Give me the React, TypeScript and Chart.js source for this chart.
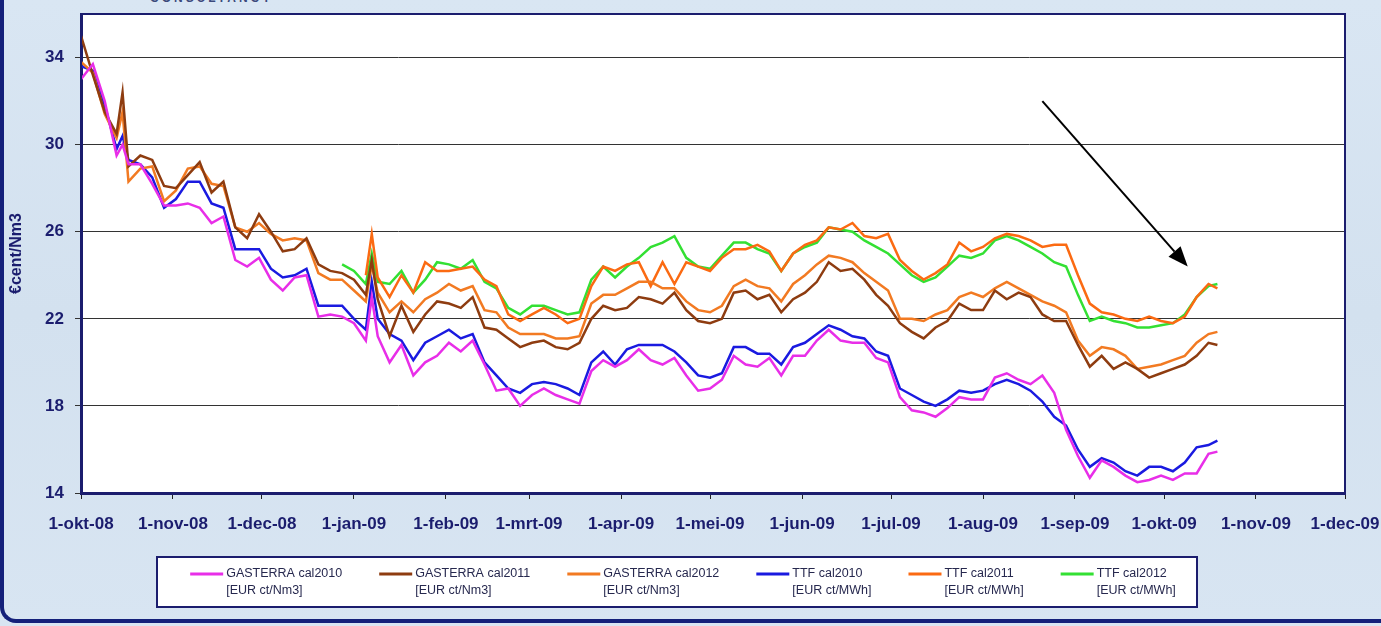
import React, { useEffect, useRef } from 'react';
import { Chart, registerables } from 'chart.js';

Chart.register(...registerables);

// Days since 1-okt-08
const DAYS = [
  0, 4, 8, 12, 14, 16, 20, 24, 28, 32, 36, 40, 44, 48, 52, 56, 60, 64, 68, 72, 76, 80, 84, 88, 92, 96, 98,
  100, 104, 108, 112, 116, 120, 124, 128, 132, 136, 140, 144, 148, 152, 156, 160, 164, 168, 172, 176, 180,
  184, 188, 192, 196, 200, 204, 208, 212, 216, 220, 224, 228, 232, 236, 240, 244, 248, 252, 256, 260, 264,
  268, 272, 276, 280, 284, 288, 292, 296, 300, 304, 308, 312, 316, 320, 324, 328, 332, 336, 340, 344, 348,
  352, 356, 360, 364, 368, 372, 376, 380, 383,
];

const GASTERRA_2010 = [
  33.0, 33.7, 32.0, 29.5, 30.0, 29.1, 29.1, 28.2, 27.2, 27.2, 27.3, 27.1, 26.4, 26.7, 24.7, 24.4, 24.8, 23.8, 23.3, 23.9, 24.0, 22.1, 22.2, 22.1, 21.8, 21.0, 23.0,
  21.2, 20.0, 20.8, 19.4, 20.0, 20.3, 20.9, 20.5, 21.0, 19.9, 18.7, 18.8, 18.0, 18.5, 18.8, 18.5, 18.3, 18.1, 19.6, 20.1, 19.8,
  20.1, 20.6, 20.1, 19.9, 20.2, 19.4, 18.7, 18.8, 19.2, 20.3, 19.9, 19.8, 20.2, 19.4, 20.3, 20.3, 21.0, 21.5, 21.0, 20.9, 20.9,
  20.2, 20.0, 18.4, 17.8, 17.7, 17.5, 17.9, 18.4, 18.3, 18.3, 19.3, 19.5, 19.2, 19.0, 19.4, 18.6, 16.9, 15.7, 14.7, 15.5, 15.2,
  14.8, 14.5, 14.6, 14.8, 14.6, 14.9, 14.9, 15.8, 15.9,
];

const GASTERRA_2011 = [
  35.0, 33.2, 31.5, 30.5, 32.4, 29.0, 29.5, 29.3, 28.1, 28.0, 28.6, 29.2, 27.8, 28.3, 26.2, 25.7, 26.8, 26.0, 25.1, 25.2, 25.7, 24.5, 24.2, 24.1, 23.8, 23.1, 24.7,
  22.9, 21.2, 22.6, 21.4, 22.2, 22.8, 22.7, 22.5, 23.0, 21.6, 21.5, 21.1, 20.7, 20.9, 21.0, 20.7, 20.6, 20.9, 22.0, 22.6, 22.4,
  22.5, 23.0, 22.9, 22.7, 23.2, 22.4, 21.9, 21.8, 22.0, 23.2, 23.3, 22.9, 23.1, 22.3, 22.9, 23.2, 23.7, 24.6, 24.2, 24.3, 23.8,
  23.1, 22.6, 21.8, 21.4, 21.1, 21.6, 21.9, 22.7, 22.4, 22.4, 23.3, 22.9, 23.2, 23.0, 22.2, 21.9, 21.9, 20.8, 19.8, 20.3, 19.7,
  20.0, 19.7, 19.3, 19.5, 19.7, 19.9, 20.3, 20.9, 20.8,
];

const GASTERRA_2012 = [
  33.8, 33.3, 31.4, 30.3, 31.5, 28.3, 28.9, 29.0, 27.4, 27.9, 28.9, 29.0, 28.2, 28.1, 26.2, 26.0, 26.4, 25.9, 25.6, 25.7, 25.6, 24.1, 23.8, 23.8, 23.3, 22.8, 24.5,
  23.2, 22.3, 22.8, 22.3, 22.9, 23.2, 23.6, 23.3, 23.5, 22.4, 22.3, 21.6, 21.3, 21.3, 21.3, 21.1, 21.1, 21.2, 22.7, 23.1, 23.1,
  23.4, 23.7, 23.7, 23.4, 23.4, 22.8, 22.4, 22.3, 22.6, 23.5, 23.8, 23.5, 23.4, 22.8, 23.6, 24.0, 24.5, 24.9, 24.8, 24.6, 24.1,
  23.7, 23.3, 22.0, 22.0, 21.9, 22.2, 22.4, 23.0, 23.2, 23.0, 23.4, 23.7, 23.4, 23.1, 22.8, 22.6, 22.3, 21.0, 20.3, 20.7, 20.6,
  20.3, 19.7, 19.8, 19.9, 20.1, 20.3, 20.9, 21.3, 21.4,
];

const TTF_2010 = [
  33.6, 33.4, 31.8, 29.8, 30.4, 29.3, 29.1, 28.5, 27.1, 27.5, 28.3, 28.3, 27.3, 27.1, 25.2, 25.2, 25.2, 24.3, 23.9, 24.0, 24.3, 22.6, 22.6, 22.6, 22.0, 21.5, 23.7,
  22.0, 21.3, 21.0, 20.1, 20.9, 21.2, 21.5, 21.1, 21.3, 20.0, 19.4, 18.8, 18.6, 19.0, 19.1, 19.0, 18.8, 18.5, 20.0, 20.5, 19.9,
  20.6, 20.8, 20.8, 20.8, 20.5, 20.0, 19.4, 19.3, 19.5, 20.7, 20.7, 20.4, 20.4, 19.9, 20.7, 20.9, 21.3, 21.7, 21.5, 21.2, 21.1,
  20.5, 20.3, 18.8, 18.5, 18.2, 18.0, 18.3, 18.7, 18.6, 18.7, 19.0, 19.2, 19.0, 18.7, 18.2, 17.5, 17.1, 16.0, 15.2, 15.6, 15.4,
  15.0, 14.8, 15.2, 15.2, 15.0, 15.4, 16.1, 16.2, 16.4,
];

const TTF_2011 = [
  null, null, null, null, null, null, null, null, null, null, null, null, null, null, null, null, null, null, null, null, null, null, null, null, null, 24.0, 25.9,
  23.9, 23.0, 24.0, 23.2, 24.6, 24.2, 24.2, 24.3, 24.4, 23.8, 23.5, 22.2, 21.9, 22.2, 22.5, 22.2, 21.8, 22.0, 23.5, 24.4, 24.2,
  24.5, 24.6, 23.5, 24.6, 23.6, 24.6, 24.4, 24.2, 24.8, 25.2, 25.2, 25.4, 25.1, 24.2, 25.0, 25.4, 25.6, 26.2, 26.1, 26.4, 25.8,
  25.7, 25.9, 24.7, 24.2, 23.8, 24.1, 24.5, 25.5, 25.1, 25.3, 25.7, 25.9, 25.8, 25.6, 25.3, 25.4, 25.4, 24.0, 22.7, 22.3, 22.2,
  22.0, 21.9, 22.1, 21.9, 21.8, 22.1, 23.0, 23.6, 23.4,
];

const TTF_2012 = [
  null, null, null, null, null, null, null, null, null, null, null, null, null, null, null, null, null, null, null, null, null, null, null, 24.5, 24.2, 23.6, 25.0,
  23.7, 23.6, 24.2, 23.2, 23.8, 24.6, 24.5, 24.3, 24.7, 23.7, 23.4, 22.5, 22.2, 22.6, 22.6, 22.4, 22.2, 22.3, 23.8, 24.4, 23.9,
  24.4, 24.8, 25.3, 25.5, 25.8, 24.8, 24.4, 24.3, 24.9, 25.5, 25.5, 25.2, 25.0, 24.2, 25.0, 25.3, 25.5, 26.2, 26.1, 26.0, 25.6,
  25.3, 25.0, 24.5, 24.0, 23.7, 23.9, 24.4, 24.9, 24.8, 25.0, 25.6, 25.8, 25.6, 25.3, 25.0, 24.6, 24.4, 23.1, 21.9, 22.1, 21.9,
  21.8, 21.6, 21.6, 21.7, 21.8, 22.2, 23.0, 23.5, 23.6,
];

const SERIES_NAMES = ['GASTERRA cal2010', 'GASTERRA cal2011', 'GASTERRA cal2012', 'TTF cal2010', 'TTF cal2011', 'TTF cal2012'];
const SERIES_UNITS = ['[EUR ct/Nm3]', '[EUR ct/Nm3]', '[EUR ct/Nm3]', '[EUR ct/MWh]', '[EUR ct/MWh]', '[EUR ct/MWh]'];
const SERIES_COLORS = ['#e82ee8', '#8e3c10', '#f27a22', '#1a1ae0', '#fb6a12', '#33e033'];

const MONTH_DAYS = [0, 31, 61, 92, 123, 151, 182, 212, 243, 273, 304, 335, 365, 396, 426];
const MONTH_LABELS = [
  '1-okt-08', '1-nov-08', '1-dec-08', '1-jan-09', '1-feb-09', '1-mrt-09', '1-apr-09', '1-mei-09',
  '1-jun-09', '1-jul-09', '1-aug-09', '1-sep-09', '1-okt-09', '1-nov-09', '1-dec-09',
];
const Y_TICKS = [14, 18, 22, 26, 30, 34];
const Y_TITLE = '€cent/Nm3';

// Annotation arrow in data units: [day, value]
const ARROW_FROM = [324, 32.0];
const ARROW_TO = [373, 24.4];

const NAVY = '#1b1d6e';
const FONT = '"Liberation Sans", Arial, sans-serif';

const SERIES = [GASTERRA_2010, GASTERRA_2011, GASTERRA_2012, TTF_2010, TTF_2011, TTF_2012];

const chartDecor = {
  id: 'chartDecor',
  beforeDraw(chart: any) {
    const { ctx, chartArea: a } = chart;
    ctx.save();
    ctx.fillStyle = '#ffffff';
    ctx.fillRect(a.left, a.top, a.right - a.left, a.bottom - a.top);
    ctx.restore();
  },
  afterDraw(chart: any) {
    const { ctx, chartArea: a, scales } = chart;
    ctx.save();
    // plot frame
    ctx.strokeStyle = NAVY;
    ctx.lineWidth = 2;
    ctx.strokeRect(a.left, a.top, a.right - a.left, a.bottom - a.top);

    // arrow annotation
    const x1 = scales.x.getPixelForValue(ARROW_FROM[0]);
    const y1 = scales.y.getPixelForValue(ARROW_FROM[1]);
    const x2 = scales.x.getPixelForValue(ARROW_TO[0]);
    const y2 = scales.y.getPixelForValue(ARROW_TO[1]);
    const ang = Math.atan2(y2 - y1, x2 - x1);
    const headL = 20, headW = 8;
    const bx = x2 - headL * Math.cos(ang), by = y2 - headL * Math.sin(ang);
    ctx.strokeStyle = '#000';
    ctx.lineWidth = 2;
    ctx.beginPath();
    ctx.moveTo(x1, y1);
    ctx.lineTo(bx, by);
    ctx.stroke();
    ctx.fillStyle = '#000';
    ctx.beginPath();
    ctx.moveTo(x2, y2);
    ctx.lineTo(bx + headW * Math.sin(ang), by - headW * Math.cos(ang));
    ctx.lineTo(bx - headW * Math.sin(ang), by + headW * Math.cos(ang));
    ctx.closePath();
    ctx.fill();

    // legend
    const boxL = 157, boxT = 557, boxW = 1040, boxH = 50;
    ctx.fillStyle = '#ffffff';
    ctx.fillRect(boxL, boxT, boxW, boxH);
    ctx.strokeStyle = NAVY;
    ctx.lineWidth = 2;
    ctx.strokeRect(boxL, boxT, boxW, boxH);
    ctx.font = `12.5px ${FONT}`;
    const sw = 33, sg = 3, gap = 37;
    const ds = chart.data.datasets;
    const widths = ds.map((d: any) => sw + sg + Math.max(ctx.measureText(d.label).width, ctx.measureText(d.unit).width));
    const total = widths.reduce((s: number, w: number) => s + w, 0) + gap * (ds.length - 1);
    let x = boxL + boxW / 2 - total / 2 + 6;
    const yl1 = boxT + 17, yl2 = boxT + 34;
    ctx.textBaseline = 'middle';
    ctx.textAlign = 'left';
    ds.forEach((d: any, i: number) => {
      ctx.strokeStyle = d.borderColor;
      ctx.lineWidth = 3;
      ctx.beginPath();
      ctx.moveTo(x, yl1);
      ctx.lineTo(x + sw, yl1);
      ctx.stroke();
      ctx.fillStyle = '#26284e';
      ctx.fillText(d.label, x + sw + sg, yl1);
      ctx.fillText(d.unit, x + sw + sg, yl2);
      x += widths[i] + gap;
    });
    ctx.restore();
  },
};

export default function App() {
  const ref = useRef<HTMLCanvasElement | null>(null);

  useEffect(() => {
    if (!ref.current) return;
    const datasets = SERIES.map((vals, i) => ({
      label: SERIES_NAMES[i],
      unit: SERIES_UNITS[i],
      data: DAYS.map((d, j) => ({ x: d, y: vals[j] })),
      borderColor: SERIES_COLORS[i],
      backgroundColor: SERIES_COLORS[i],
      borderWidth: 2.5,
      pointRadius: 0,
      tension: 0,
      spanGaps: false,
      fill: false,
    }));
    const chart = new Chart(ref.current, {
      type: 'line',
      data: { datasets } as any,
      plugins: [chartDecor],
      options: {
        animation: false,
        responsive: true,
        maintainAspectRatio: false,
        layout: { padding: { left: 2, right: 36, top: 14, bottom: 93 } },
        plugins: { legend: { display: false }, tooltip: { enabled: false } },
        scales: {
          x: {
            type: 'linear',
            min: 0,
            max: 426,
            afterBuildTicks: (s: any) => {
              s.ticks = MONTH_DAYS.map((v) => ({ value: v }));
            },
            afterFit: (s: any) => {
              s.paddingLeft = 0;
              s.paddingRight = 0;
              s.paddingTop = 0;
              s.paddingBottom = 0;
              s.height = 40;
            },
            ticks: {
              autoSkip: false,
              maxRotation: 0,
              minRotation: 0,
              padding: 15,
              color: NAVY,
              font: { family: FONT, size: 17, weight: 'bold' },
              callback: (_v: any, i: number) => MONTH_LABELS[i],
            },
            grid: { drawOnChartArea: false, drawTicks: true, tickLength: 6, color: '#222', lineWidth: 1 },
            border: { color: NAVY, width: 3 },
          },
          y: {
            type: 'linear',
            min: 14,
            max: 36,
            afterBuildTicks: (s: any) => {
              s.ticks = Y_TICKS.map((v) => ({ value: v }));
            },
            afterFit: (s: any) => {
              s.width = 79;
              s.paddingTop = 0;
              s.paddingBottom = 0;
              s.paddingLeft = 0;
              s.paddingRight = 0;
            },
            ticks: {
              padding: 11,
              color: NAVY,
              font: { family: FONT, size: 17, weight: 'bold' },
              callback: (v: any) => String(v),
            },
            grid: { color: '#333', lineWidth: 1, tickLength: 6 },
            border: { color: NAVY, width: 3 },
            title: {
              display: true,
              text: Y_TITLE,
              color: NAVY,
              font: { family: FONT, size: 16, weight: 'bold' },
              padding: { top: 5, bottom: 0 },
            },
          },
        },
      } as any,
    });
    return () => chart.destroy();
  }, []);

  return (
    <div
      style={{
        position: 'absolute',
        left: 0,
        top: 0,
        width: 1381,
        height: 626,
        overflow: 'hidden',
        background: 'linear-gradient(180deg, #d9e6f3 0%, #d3e1ef 50%, #d8e5f2 100%)',
      }}
    >
      <div
        style={{
          position: 'absolute',
          left: 0,
          top: -30,
          width: 1420,
          height: 653,
          boxSizing: 'border-box',
          borderLeft: '4px solid #14207a',
          borderBottom: '4px solid #14207a',
          borderBottomLeftRadius: 16,
        }}
      />
      <div
        style={{
          position: 'absolute',
          left: 150,
          top: -9,
          fontFamily: FONT,
          fontWeight: 'bold',
          fontSize: 12,
          letterSpacing: 3,
          color: '#3c4a7c',
        }}
      >
        CONSULTANCY
      </div>
      <div style={{ position: 'absolute', left: 0, top: 0, width: 1381, height: 626 }}>
        <canvas ref={ref} />
      </div>
    </div>
  );
}
